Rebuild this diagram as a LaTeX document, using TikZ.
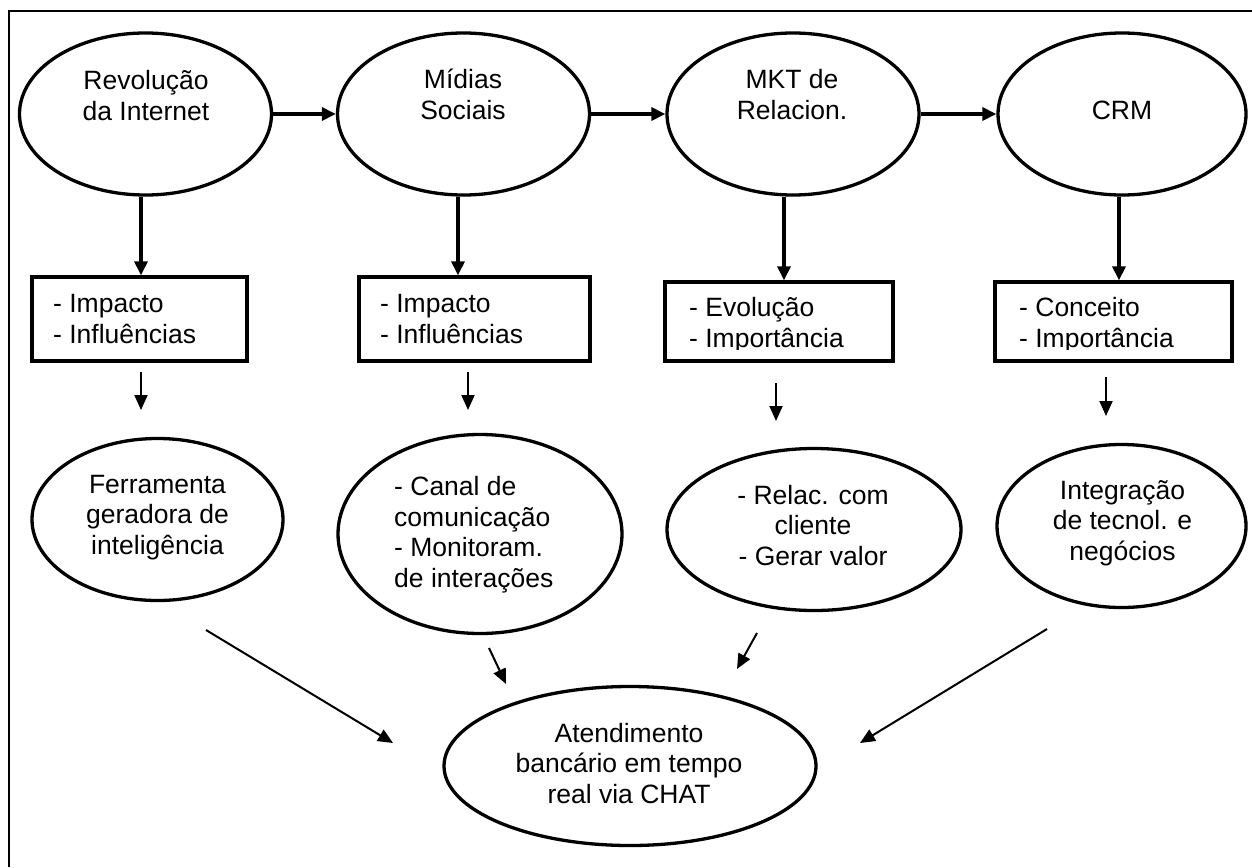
\documentclass[tikz,border=0pt]{standalone}
\usepackage{fontspec}
\setmainfont{Liberation Sans}
\usetikzlibrary{shapes.geometric,arrows.meta}
\begin{document}
\begin{tikzpicture}[x=1pt,y=-1pt,
  ell/.style={draw,ellipse,line width=3.3pt,inner sep=0pt},
  boxn/.style={draw,rectangle,line width=3.3pt,inner sep=0pt},
  txt/.style={font=\fontsize{26.5}{30.5}\selectfont,inner sep=0pt},
  txtl/.style={txt,align=left,anchor=base west},
  txtc/.style={txt,align=center,anchor=base},
  thickarr/.style={line width=3.3pt,-{Triangle[length=14pt,width=13pt]}},
  thinarr/.style={line width=2pt,-{Triangle[length=15pt,width=13pt]}},
]
\useasboundingbox (0,0) rectangle (1252,867);
\draw[line width=2pt] (8.5,867) -- (8.5,11) -- (1252,11);

% top ellipses
\node[ell,minimum width=252pt,minimum height=162pt] (e1) at (145.5,114) {};
\node[ell,minimum width=252pt,minimum height=162pt] (e2) at (463.5,114) {};
\node[ell,minimum width=252pt,minimum height=162pt] (e3) at (793,114) {};
\node[ell,minimum width=248pt,minimum height=162pt] (e4) at (1122,114) {};
\node[txtc] (t1) at (146,120) {Revolução\\da Internet};
\node[txtc] (t2) at (463,119) {Mídias\\Sociais};
\node[txtc] (t3) at (792,119) {MKT de\\Relacion.};
\node[txtc] (t4) at (1122,119) {CRM};

\draw[thickarr] (e1) -- (e2);
\draw[thickarr] (e2) -- (e3);
\draw[thickarr] (e3) -- (e4);

% boxes
\node[boxn,minimum width=215pt,minimum height=84pt] (b1) at (139.5,319) {};
\node[boxn,minimum width=231pt,minimum height=84pt] (b2) at (474.5,319) {};
\node[boxn,minimum width=228pt,minimum height=79pt] (b3) at (779,321.5) {};
\node[boxn,minimum width=237pt,minimum height=79pt] (b4) at (1113.5,321.5) {};
\node[txtl] (bt1) at (53,343) {- Impacto\\- Influências};
\node[txtl] (bt2) at (380,343) {- Impacto\\- Influências};
\begin{scope}
\clip (667,284) rectangle (891,349);
\node[txtl] (bt3) at (689,347) {- Evolução\\- Importância};
\end{scope}
\begin{scope}
\clip (997,284) rectangle (1230,349);
\node[txtl] (bt4) at (1019,347) {- Conceito\\- Importância};
\end{scope}

\draw[thickarr] ([xshift=-4.5pt]e1.south) -- ([xshift=1.5pt]b1.north);
\draw[thickarr] ([xshift=-5.5pt]e2.south) -- ([xshift=-16.5pt]b2.north);
\draw[thickarr] ([xshift=-9pt]e3.south) -- ([xshift=5pt]b3.north);
\draw[thickarr] ([xshift=-3pt]e4.south) -- ([xshift=5.5pt]b4.north);

% lower ellipses
\node[ell,minimum width=251pt,minimum height=162pt] (f) at (157.5,519.5) {};
\node[ell,minimum width=284pt,minimum height=199pt] (c) at (480,534) {};
\node[ell,minimum width=294pt,minimum height=162pt] (r) at (814,529.5) {};
\node[ell,minimum width=249pt,minimum height=163pt] (i) at (1121.5,526) {};
\node[ell,minimum width=372pt,minimum height=159pt] (a) at (630,766) {};

\node[txtc] (ft) at (157.5,554) {Ferramenta\\geradora de\\inteligência};
\node[txtl] (ct) at (394,587) {- Canal de\\comunicação\\- Monitoram.\\de interações};
\node[txtc] (rt) at (813,565) {- Relac. com\\cliente\\- Gerar valor};
\node[txtc] (it) at (1122.5,560) {Integração\\de tecnol. e\\negócios};
\node[txtc] (at) at (629,803) {Atendimento\\bancário em tempo\\real via CHAT};

% small arrows
\coordinate (s1) at (141,372); \coordinate (s1e) at (141,410);
\coordinate (s2) at (468,372); \coordinate (s2e) at (468,410);
\coordinate (s3) at (776,383); \coordinate (s3e) at (776,421);
\coordinate (s4) at (1106,377); \coordinate (s4e) at (1106,416);
\draw[thinarr] (s1) -- (s1e);
\draw[thinarr] (s2) -- (s2e);
\draw[thinarr] (s3) -- (s3e);
\draw[thinarr] (s4) -- (s4e);

% diagonal arrows
\coordinate (d1) at (206,630); \coordinate (d1e) at (393,743);
\coordinate (d2) at (489,648); \coordinate (d2e) at (506,684);
\coordinate (d3) at (757,633); \coordinate (d3e) at (737,669);
\coordinate (d4) at (1047,629); \coordinate (d4e) at (860,743);
\draw[thinarr] (d1) -- (d1e);
\draw[thinarr] (d2) -- (d2e);
\draw[thinarr] (d3) -- (d3e);
\draw[thinarr] (d4) -- (d4e);
\end{tikzpicture}
\end{document}
